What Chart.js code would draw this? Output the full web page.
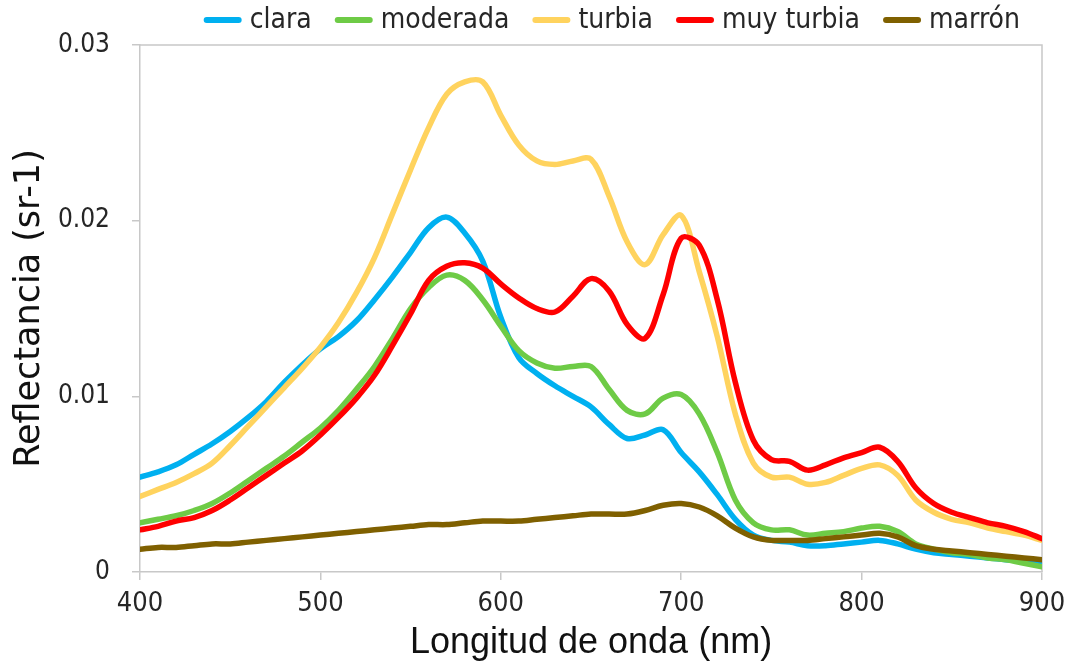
<!DOCTYPE html>
<html>
<head>
<meta charset="utf-8">
<title>Reflectancia</title>
<script src="https://cdn.jsdelivr.net/npm/chart.js@4.4.1/dist/chart.umd.min.js"></script>
<style>
  html, body { margin: 0; padding: 0; background: #ffffff; }
  #wrap { width: 1075px; height: 668px; }
</style>
</head>
<body>
<div id="wrap"><canvas id="chart" width="1075" height="668"></canvas></div>
<script>
// Wavelength grid (nm)
const wavelengths = [400,410,420,430,440,450,460,470,480,490,
                     500,510,520,530,540,550,560,570,580,590,
                     600,610,620,630,640,650,660,670,680,690,
                     700,710,720,730,740,750,760,770,780,790,
                     800,810,820,830,840,850,860,870,880,890,900];

// Reflectance (sr-1) per water class
const clara = [0.0054,0.0057,0.0061,0.0067,0.0073,0.0080,0.0088,0.0097,0.0108,0.0118,
               0.0127,0.0134,0.0143,0.0155,0.0168,0.0182,0.0196,0.0202,0.0193,0.0177,
               0.0145,0.0122,0.0113,0.0106,0.0100,0.0094,0.0084,0.0076,0.0078,0.0081,
               0.0068,0.0057,0.0044,0.0030,0.0021,0.0018,0.0017,0.0015,0.0015,0.0016,
               0.0017,0.0018,0.0016,0.0013,0.0011,0.0010,0.0009,0.0008,0.0007,0.0006,0.0005];

const moderada = [0.0028,0.0030,0.0032,0.0035,0.0039,0.0045,0.0052,0.0059,0.0066,0.0074,
                  0.0082,0.0092,0.0104,0.0117,0.0133,0.0150,0.0162,0.0169,0.0166,0.0155,
                  0.0140,0.0126,0.0119,0.0116,0.0117,0.0117,0.0104,0.0092,0.0090,0.0099,
                  0.0101,0.0090,0.0068,0.0041,0.0028,0.0024,0.0024,0.0021,0.0022,0.0023,
                  0.0025,0.0026,0.0023,0.0016,0.0013,0.0011,0.0010,0.0008,0.0007,0.0005,0.0003];

const turbia = [0.0043,0.0047,0.0051,0.0056,0.0062,0.0072,0.0083,0.0094,0.0105,0.0116,
                0.0128,0.0142,0.0159,0.0179,0.0204,0.0229,0.0253,0.0272,0.0279,0.0279,
                0.0260,0.0243,0.0234,0.0232,0.0234,0.0235,0.0214,0.0188,0.0175,0.0192,
                0.0203,0.0171,0.0134,0.0090,0.0062,0.0054,0.0054,0.0050,0.0051,0.0055,
                0.0059,0.0061,0.0055,0.0041,0.0034,0.0030,0.0028,0.0025,0.0023,0.0021,0.0018];

const muyTurbia = [0.0024,0.0026,0.0029,0.0031,0.0035,0.0041,0.0048,0.0055,0.0062,0.0069,
                   0.0078,0.0088,0.0099,0.0112,0.0129,0.0147,0.0166,0.0174,0.0176,0.0173,
                   0.0164,0.0156,0.0150,0.0148,0.0157,0.0167,0.0160,0.0141,0.0133,0.0158,
                   0.0190,0.0186,0.0155,0.0108,0.0075,0.0064,0.0063,0.0058,0.0061,0.0065,
                   0.0068,0.0071,0.0063,0.0048,0.0039,0.0034,0.0031,0.0028,0.0026,0.0023,0.0019];

const marron = [0.0013,0.0014,0.0014,0.0015,0.0016,0.0016,0.0017,0.0018,0.0019,0.0020,
                0.0021,0.0022,0.0023,0.0024,0.0025,0.0026,0.0027,0.0027,0.0028,0.0029,
                0.0029,0.0029,0.0030,0.0031,0.0032,0.0033,0.0033,0.0033,0.0035,0.0038,
                0.0039,0.0037,0.0032,0.0025,0.0020,0.0018,0.0018,0.0018,0.0019,0.0020,
                0.0021,0.0022,0.0020,0.0015,0.0013,0.0012,0.0011,0.0010,0.0009,0.0008,0.0007];

const seriesNames  = ['clara', 'moderada', 'turbia', 'muy turbia', 'marrón'];
const seriesValues = [clara, moderada, turbia, muyTurbia, marron];
const seriesColors = ['#00b0f0', '#6ecb46', '#ffd35e', '#ff0000', '#7f6000'];

const xTickValues = [400, 500, 600, 700, 800, 900];
const yTickValues = [0, 0.01, 0.02, 0.03];
const yTickLabels = ['0', '0.01', '0.02', '0.03'];

const AXIS_GRAY = '#c8c8c8';
const TEXT_DARK = '#262626';
const NARROW = '"DejaVu Sans Condensed", "Liberation Sans", sans-serif';

// Grey frame on the top and right sides of the plot area
const framePlugin = {
  id: 'plotFrame',
  beforeDatasetsDraw(chart) {
    const { ctx, chartArea: a } = chart;
    ctx.save();
    ctx.strokeStyle = AXIS_GRAY;
    ctx.lineWidth = 1.5;
    ctx.beginPath();
    ctx.moveTo(a.left, a.top);
    ctx.lineTo(a.right, a.top);
    ctx.lineTo(a.right, a.bottom);
    ctx.stroke();
    ctx.restore();
  }
};

// Single-row legend with short line samples, right-aligned above the plot
const lineLegendPlugin = {
  id: 'lineLegend',
  afterDraw(chart) {
    const { ctx, chartArea: a } = chart;
    const sampleW = 38, textGap = 8, itemGap = 23, y = 20;
    ctx.save();
    ctx.font = '28px ' + NARROW;
    ctx.textBaseline = 'middle';
    ctx.textAlign = 'left';
    const items = chart.data.datasets.map(d => ({
      label: d.label, color: d.borderColor, w: ctx.measureText(d.label).width
    }));
    const total = items.reduce((s, it) => s + sampleW + textGap + it.w, 0) + itemGap * (items.length - 1);
    let x = a.right - 22 - total;
    items.forEach(it => {
      ctx.strokeStyle = it.color;
      ctx.lineWidth = 6;
      ctx.lineCap = 'round';
      ctx.beginPath();
      ctx.moveTo(x + 3, y);
      ctx.lineTo(x + sampleW - 3, y);
      ctx.stroke();
      x += sampleW + textGap;
      ctx.fillStyle = TEXT_DARK;
      ctx.fillText(it.label, x, y + 1);
      x += it.w + itemGap;
    });
    ctx.restore();
  }
};

const datasets = seriesNames.map((name, i) => ({
  label: name,
  data: seriesValues[i].map((v, j) => ({ x: wavelengths[j], y: v })),
  borderColor: seriesColors[i],
  backgroundColor: seriesColors[i],
  borderWidth: 5.5,
  pointRadius: 0,
  pointHoverRadius: 0,
  fill: false,
  tension: 0.35,
  borderJoinStyle: 'round',
  borderCapStyle: 'round',
  order: seriesNames.length - i
}));

new Chart(document.getElementById('chart'), {
  type: 'line',
  data: { datasets },
  plugins: [framePlugin, lineLegendPlugin],
  options: {
    responsive: false,
    animation: false,
    events: [],
    layout: { padding: { top: 45, right: 33, left: 0, bottom: 0 } },
    plugins: {
      legend: { display: false },
      tooltip: { enabled: false }
    },
    scales: {
      x: {
        type: 'linear',
        min: 400,
        max: 900,
        afterBuildTicks: s => { s.ticks = xTickValues.map(v => ({ value: v })); },
        afterFit: s => { s.height = 96; },
        ticks: {
          color: TEXT_DARK,
          font: { family: NARROW, size: 27 },
          padding: 8,
          maxRotation: 0,
          callback: v => String(v)
        },
        grid: { drawOnChartArea: false, drawTicks: true, tickLength: 8, color: AXIS_GRAY, lineWidth: 1.5 },
        border: { display: true, color: AXIS_GRAY, width: 1.5 },
        title: {
          display: true,
          text: 'Longitud de onda (nm)',
          color: '#111111',
          font: { family: '"Liberation Sans", Arial, sans-serif', size: 36 },
          padding: { top: 0, bottom: 3 }
        }
      },
      y: {
        type: 'linear',
        min: 0,
        max: 0.03,
        afterBuildTicks: s => { s.ticks = yTickValues.map(v => ({ value: v })); },
        afterFit: s => { s.width = 140; },
        ticks: {
          color: TEXT_DARK,
          font: { family: NARROW, size: 26 },
          padding: 22,
          callback: (v) => yTickLabels[yTickValues.indexOf(v)]
        },
        grid: { drawOnChartArea: false, drawTicks: true, tickLength: 8, color: AXIS_GRAY, lineWidth: 1.5 },
        border: { display: true, color: AXIS_GRAY, width: 1.5 },
        title: {
          display: true,
          text: 'Reflectancia (sr-1)',
          color: '#111111',
          font: { family: '"DejaVu Sans", sans-serif', size: 35 },
          padding: { top: 9, bottom: 0 }
        }
      }
    }
  }
});
</script>
</body>
</html>
